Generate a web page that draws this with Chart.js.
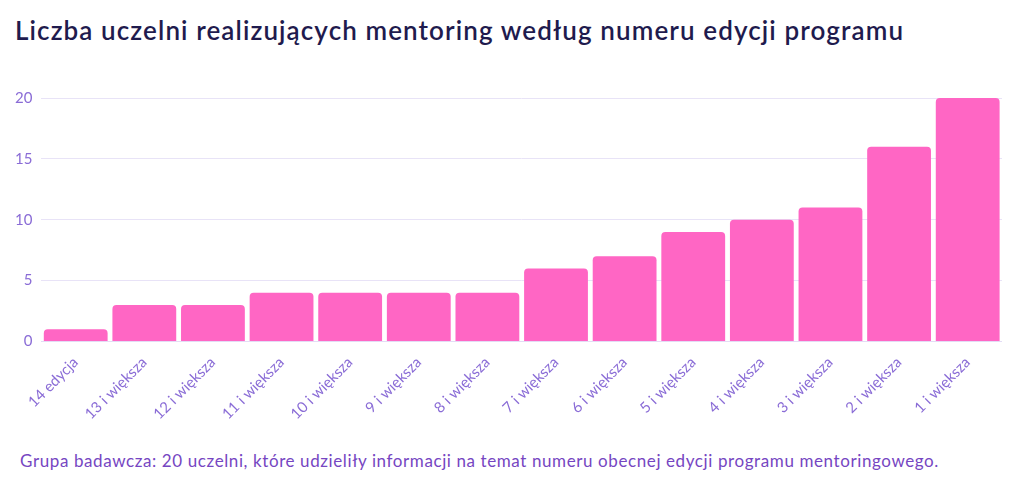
<!DOCTYPE html>
<html lang="pl">
<head>
    <meta charset="UTF-8">
    <title>Liczba uczelni realizujących mentoring</title>
    <script src="https://cdn.jsdelivr.net/npm/chart.js"></script>
    <style>
        body { margin: 0; background: #fff; width: 1024px; height: 490px; position: relative; overflow: hidden; }
        #title { position: absolute; left: 15px; top: 14px; font-family: "Lato", sans-serif; font-size: 26px; font-weight: 600; color: #1f1b4e; letter-spacing: 1.1px; }
        #wrap { position: absolute; left: 0; top: 80px; width: 1002px; height: 347px; }
        #note { position: absolute; left: 20px; top: 450px; font-family: "Lato", sans-serif; font-size: 17px; color: #7646c2; letter-spacing: 0.6px; }
    </style>
</head>
<body>
    <div id="title">Liczba uczelni realizujących mentoring według numeru edycji programu</div>
    <div id="wrap"><canvas id="chart"></canvas></div>
    <div id="note">Grupa badawcza: 20 uczelni, które udzieliły informacji na temat numeru obecnej edycji programu mentoringowego.</div>
    <script>
        const categories = ['14 edycja', '13 i większa', '12 i większa', '11 i większa', '10 i większa',
            '9 i większa', '8 i większa', '7 i większa', '6 i większa', '5 i większa',
            '4 i większa', '3 i większa', '2 i większa', '1 i większa'];
        const counts = [1, 3, 3, 4, 4, 4, 4, 6, 7, 9, 10, 11, 16, 20];
        const yTicks = [0, 5, 10, 15, 20];

        const tickColor = '#8a6cd6';

        const chart = new Chart(document.getElementById('chart'), {
            type: 'bar',
            data: {
                labels: categories,
                datasets: [{
                    data: counts,
                    backgroundColor: '#ff66c4',
                    borderRadius: { topLeft: 4, topRight: 4 },
                    borderSkipped: 'bottom',
                    barPercentage: 0.93,
                    categoryPercentage: 1.0
                }]
            },
            options: {
                responsive: true,
                maintainAspectRatio: false,
                animation: false,
                layout: { padding: { top: 10, left: 6 } },
                plugins: { legend: { display: false }, tooltip: { enabled: false } },
                scales: {
                    x: {
                        grid: { display: false },
                        border: { color: '#e3dcf5' },
                        afterFit: axis => { axis.paddingLeft = 0; axis.paddingRight = 0; },
                        ticks: {
                            color: tickColor,
                            font: { family: 'Lato', size: 15 },
                            maxRotation: 45,
                            minRotation: 45,
                            padding: 4
                        }
                    },
                    y: {
                        min: 0,
                        max: 20,
                        afterBuildTicks: axis => { axis.ticks = yTicks.map(v => ({ value: v })); },
                        grid: { color: '#e8e3f7', drawTicks: false },
                        border: { display: false },
                        ticks: {
                            color: tickColor,
                            font: { family: 'Lato', size: 15 },
                            padding: 9
                        }
                    }
                }
            }
        });
    </script>
</body>
</html>
